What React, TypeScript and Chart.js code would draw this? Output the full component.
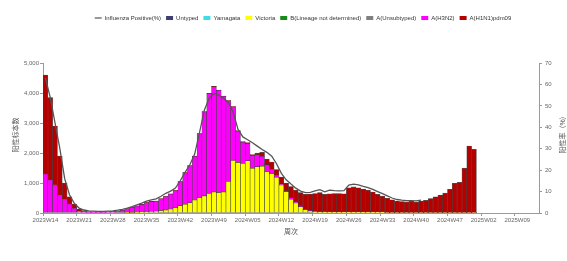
import React, { useEffect, useRef } from 'react';
import { Chart, registerables } from 'chart.js';

Chart.register(...registerables);

const FONT = '"Liberation Sans", "Noto Sans CJK SC", sans-serif';

const categories = [
  '2023W14', '2023W15', '2023W16', '2023W17', '2023W18', '2023W19', '2023W20', '2023W21', '2023W22', '2023W23',
  '2023W24', '2023W25', '2023W26', '2023W27', '2023W28', '2023W29', '2023W30', '2023W31', '2023W32', '2023W33',
  '2023W34', '2023W35', '2023W36', '2023W37', '2023W38', '2023W39', '2023W40', '2023W41', '2023W42', '2023W43',
  '2023W44', '2023W45', '2023W46', '2023W47', '2023W48', '2023W49', '2023W50', '2023W51', '2023W52',
  '2024W02', '2024W03', '2024W04', '2024W05', '2024W06', '2024W07', '2024W08', '2024W09', '2024W10', '2024W11',
  '2024W12', '2024W13', '2024W14', '2024W15', '2024W16', '2024W17', '2024W18', '2024W19', '2024W20', '2024W21',
  '2024W22', '2024W23', '2024W24', '2024W25', '2024W26', '2024W27', '2024W28', '2024W29', '2024W30', '2024W31',
  '2024W32', '2024W33', '2024W34', '2024W35', '2024W36', '2024W37', '2024W38', '2024W39', '2024W40', '2024W41',
  '2024W42', '2024W43', '2024W44', '2024W45', '2024W46', '2024W47', '2024W48', '2024W49', '2024W50', '2024W51',
  '2024W52',
  '2025W01', '2025W02', '2025W03', '2025W04', '2025W05', '2025W06', '2025W07', '2025W08', '2025W09', '2025W10',
  '2025W11', '2025W12', '2025W13',
];

const tickLabels = [
  '2023W14', '2023W21', '2023W28', '2023W35', '2023W42', '2023W49', '2024W05', '2024W12',
  '2024W19', '2024W26', '2024W33', '2024W40', '2024W47', '2025W02', '2025W09',
];

// Influenza positive rate (%)
const positiveRate = [
  63, 54, 42, 30, 16, 8.5, 4.5, 2.3, 1.4, 1.0,
  0.9, 0.8, 0.8, 0.9, 1.0, 1.3, 1.7, 2.3, 3.0, 3.8,
  4.6, 5.5, 6.1, 6.6, 7.8, 9.2, 10.2, 11.6, 15, 19,
  22.5, 27.5, 37.5, 48, 53.5, 55.8, 55, 53.5, 51.5, 47,
  39, 35.5, 34.2, 32.8, 31.2, 29.6, 28.3, 26.5, 23, 18.5,
  15.5, 13.5, 11.6, 10.2, 9.5, 9.6, 10.3, 10.9, 9.9, 10.7,
  10.4, 10.3, 10.4, 13, 13.5, 13.1, 12.4, 11.8, 11, 10,
  9, 8, 7, 6.3, 6, 5.8, 5.8, 5.7, 6,
];

const untyped: number[] = [];
const yamagata: number[] = [];
const bUndetermined: number[] = [];
const aUnsubtyped: number[] = [];

const victoria = [
  0, 0, 0, 0, 0, 0, 0, 0, 0, 0,
  0, 0, 0, 0, 0, 0, 0, 10, 15, 20,
  30, 40, 50, 60, 80, 100, 130, 180, 240, 290,
  340, 430, 520, 570, 650, 700, 680, 700, 1050, 1750,
  1680, 1650, 1740, 1490, 1540, 1560, 1380, 1320, 1190, 930,
  710, 460, 330, 210, 110, 70, 45, 35, 30, 25,
  25, 25, 25, 25, 25, 25, 25, 25, 25, 25,
  25, 15, 15, 15, 15, 15, 15, 15, 15, 15,
  15, 15, 15, 15, 15, 15, 15, 15, 15, 15,
];

const h3n2 = [
  1300, 1100, 930, 600, 450, 300, 160, 60, 40, 30,
  30, 30, 30, 35, 45, 65, 95, 130, 165, 210,
  255, 305, 335, 335, 390, 450, 500, 570, 800, 1050,
  1230, 1460, 2120, 2800, 3330, 3510, 3410, 3190, 2690, 1790,
  1050, 710, 580, 430, 400, 330, 230, 140, 60, 40,
  30, 60, 40, 20, 15, 10, 10, 10, 10, 10,
  10, 10, 10, 10, 10, 10, 10, 10, 10, 10,
  10, 5, 5, 5, 5, 5, 5, 5, 5, 5,
  5, 5, 5, 5, 5, 5, 5, 5, 5, 5,
];

const h1n1 = [
  3300, 2750, 1970, 1300, 550, 240, 140, 70, 40, 20,
  10, 5, 5, 5, 5, 5, 5, 5, 5, 5,
  5, 5, 5, 5, 10, 10, 10, 10, 10, 10,
  10, 10, 10, 10, 10, 10, 10, 10, 10, 10,
  20, 20, 30, 30, 60, 130, 190, 240, 200, 230,
  260, 360, 390, 450, 495, 550, 595, 635, 580, 605,
  615, 615, 605, 805, 835, 805, 765, 725, 665, 585,
  525, 470, 420, 380, 360, 350, 370, 340, 380, 400,
  460, 520, 580, 640, 770, 970, 1000, 1470, 2210, 2100,
];

const LEFT_TITLE = '阳性标本数';
const RIGHT_TITLE = '阳性率（%）';
const X_TITLE = '周次';

const AXIS = '#9a9a9a';
const TICK = '#666666';
const TITLE = '#555555';
const BAR_BORDER = 'rgba(30,30,30,0.75)';

const axisTitlesPlugin = {
  id: 'axisTitles',
  afterLayout(chart: any) {
    // nudge the legend row to sit where the reference has it
    if (chart.legend) {
      chart.legend.left += 12;
      chart.legend.right += 12;
    }
  },
  afterDraw(chart: any) {
    const { ctx, chartArea } = chart;
    const midY = (chartArea.top + chartArea.bottom) / 2;
    const drawRot = (text: string, x: number, y: number) => {
      ctx.save();
      ctx.translate(x, y);
      ctx.rotate(-Math.PI / 2);
      ctx.font = `7px ${FONT}`;
      ctx.fillStyle = TITLE;
      ctx.textAlign = 'center';
      ctx.textBaseline = 'middle';
      ctx.fillText(text, 0, 0);
      ctx.restore();
    };
    drawRot(LEFT_TITLE, 16, midY - 3);
    drawRot(RIGHT_TITLE, 563, midY - 5);
  },
};

function barDataset(label: string, data: number[], color: string) {
  return {
    type: 'bar' as const,
    label,
    data,
    yAxisID: 'y',
    backgroundColor: color,
    borderColor: BAR_BORDER,
    borderWidth: 0.6,
    borderSkipped: false,
    barPercentage: 1,
    categoryPercentage: 1,
  };
}

export default function App() {
  const canvasRef = useRef<HTMLCanvasElement | null>(null);

  useEffect(() => {
    const canvas = canvasRef.current;
    if (!canvas) return;
    const chart = new Chart(canvas, {
      type: 'bar',
      data: {
        labels: categories,
        datasets: [
          {
            type: 'line',
            label: 'Influenza Positive(%)',
            data: positiveRate,
            yAxisID: 'y1',
            borderColor: '#555555',
            backgroundColor: '#555555',
            borderWidth: 1.3,
            pointRadius: 0,
            tension: 0,
            fill: false,
          } as any,
          barDataset('Untyped', untyped, '#3E3E72'),
          barDataset('Yamagata', yamagata, '#3FDCE6'),
          barDataset('Victoria', victoria, '#FFFF00'),
          barDataset('B(Lineage not determined)', bUndetermined, '#178A17'),
          barDataset('A(Unsubtyped)', aUnsubtyped, '#808080'),
          barDataset('A(H3N2)', h3n2, '#FF00FF'),
          barDataset('A(H1N1)pdm09', h1n1, '#B50000'),
        ],
      },
      options: {
        responsive: false,
        animation: false,
        devicePixelRatio: 1,
        events: [],
        layout: { padding: { top: 10, left: 0, right: 0, bottom: 0 } },
        plugins: {
          tooltip: { enabled: false },
          title: {
            display: true,
            text: '',
            weight: 500,
            fullSize: false,
            font: { size: 10 },
            padding: { top: 0, bottom: 20 },
          } as any,
          legend: {
            position: 'top',
            fullSize: false,
            labels: {
              usePointStyle: true,
              pointStyleWidth: 7,
              boxHeight: 4,
              padding: 5,
              color: '#333333',
              font: { size: 6, family: FONT },
              generateLabels(ch: any) {
                const items = Chart.defaults.plugins.legend.labels.generateLabels(ch);
                items.forEach((it: any) => {
                  const ds: any = ch.data.datasets[it.datasetIndex];
                  if (ds.type === 'line') {
                    it.pointStyle = 'line';
                    it.strokeStyle = ds.borderColor;
                    it.lineWidth = 1.2;
                  } else {
                    it.pointStyle = 'rect';
                    it.lineWidth = 0;
                    it.strokeStyle = ds.backgroundColor;
                  }
                });
                return items;
              },
            },
          },
        },
        scales: {
          x: {
            stacked: true,
            offset: true,
            grid: {
              display: true,
              drawOnChartArea: false,
              tickLength: 3,
              color: (ctx: any) =>
                ctx.index !== undefined && tickLabels.includes(categories[ctx.index]) ? AXIS : 'rgba(0,0,0,0)',
            },
            border: { color: AXIS, width: 1 },
            ticks: {
              autoSkip: false,
              maxRotation: 0,
              minRotation: 0,
              padding: 1,
              color: TICK,
              font: { size: 6, family: FONT },
              callback: (_v: any, i: number) => (tickLabels.includes(categories[i]) ? categories[i] : ''),
            },
            title: {
              display: true,
              text: X_TITLE,
              color: TITLE,
              font: { size: 7, family: FONT },
              padding: { top: 0, bottom: 25 },
            },
            afterFit: (s: any) => {
              s.height = 48;
            },
          },
          y: {
            stacked: true,
            position: 'left',
            min: 0,
            max: 5000,
            grid: { drawOnChartArea: false, tickLength: 3, color: AXIS },
            border: { color: AXIS, width: 1 },
            ticks: {
              stepSize: 1000,
              padding: 1,
              color: TICK,
              font: { size: 6, family: FONT },
              callback: (v: any) => Number(v).toLocaleString('en-US'),
            },
            afterFit: (s: any) => {
              s.width = 43;
            },
          },
          y1: {
            position: 'right',
            min: 0,
            max: 70,
            grid: { drawOnChartArea: false, tickLength: 3, color: AXIS },
            border: { color: AXIS, width: 1 },
            ticks: {
              stepSize: 10,
              padding: 3,
              color: TICK,
              font: { size: 6, family: FONT },
            },
            afterFit: (s: any) => {
              s.width = 28;
            },
          },
        },
      } as any,
      plugins: [axisTitlesPlugin],
    });
    return () => chart.destroy();
  }, []);

  return (
    <div style={{ position: 'fixed', left: 0, top: 0, width: 567, height: 261, background: '#fff' }}>
      <canvas ref={canvasRef} width={567} height={261} style={{ display: 'block', width: 567, height: 261 }} />
    </div>
  );
}
